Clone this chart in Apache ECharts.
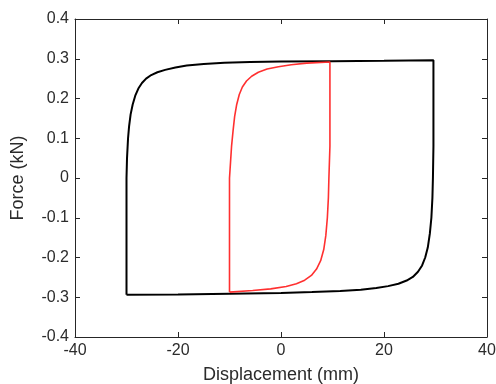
<!DOCTYPE html>
<html>
<head>
<meta charset="utf-8">
<script src="https://cdn.jsdelivr.net/npm/echarts@6/dist/echarts.min.js"></script>
<style>
  html, body { margin: 0; padding: 0; background: #fff; }
  #chart { width: 496px; height: 384px; }
</style>
</head>
<body>
<div id="chart"></div>
<script>
// black loop (+/-30 mm), traced round the loop
var blackX = [-30, -30, -29.9, -29.7, -29.5, -29.2, -28.8, -28.3, -27.7, -27.0, -26.2, -25.2, -24.0, -22.5, -20.5, -18.3, -15, -11, -6, 0, 10, 20, 29.6,
              29.6, 29.5, 29.4, 29.2, 28.9, 28.5, 28.0, 27.4, 26.6, 25.6, 24.4, 22.8, 20.8, 18.5, 15.5, 11.5, 6, 0, -10, -20, -30];
var blackY = [-0.294, 0, 0.05, 0.1, 0.13, 0.16, 0.185, 0.207, 0.225, 0.239, 0.25, 0.259, 0.266, 0.272, 0.278, 0.283, 0.287, 0.29, 0.292, 0.293, 0.294, 0.295, 0.296,
              0.08, 0, -0.05, -0.1, -0.14, -0.175, -0.2, -0.22, -0.236, -0.249, -0.258, -0.266, -0.272, -0.277, -0.281, -0.284, -0.287, -0.289, -0.291, -0.293, -0.294];
// red loop (+/-10 mm)
var redX = [-10, -10, -9.8, -9.6, -9.3, -9.0, -8.6, -8.1, -7.5, -6.7, -5.7, -4.4, -2.7, -0.5, 2, 5, 9.5,
            9.5, 9.3, 9.2, 9.0, 8.7, 8.3, 7.7, 6.9, 5.9, 4.6, 3.0, 1, -2, -5.5, -10];
var redY = [-0.287, 0, 0.04, 0.08, 0.12, 0.155, 0.185, 0.21, 0.229, 0.244, 0.256, 0.266, 0.274, 0.28, 0.285, 0.289, 0.292,
            0.08, 0, -0.05, -0.1, -0.145, -0.18, -0.208, -0.229, -0.245, -0.257, -0.266, -0.273, -0.279, -0.283, -0.287];
var xTicks = [-40, -20, 0, 20, 40];
var yTicks = [-0.4, -0.3, -0.2, -0.1, 0, 0.1, 0.2, 0.3, 0.4];

function pairs(xs, ys) {
  return xs.map(function (x, i) { return [x, ys[i]]; });
}

var chart = echarts.init(document.getElementById('chart'));
var font = 'Liberation Sans, Arial, sans-serif';
var lineCol = '#262626';
var textCol = '#2b2b2b';

var frame = {
  axisLine: { show: true, onZero: false, lineStyle: { color: lineCol, width: 1 } },
  axisTick: { show: true, inside: true, length: 5, lineStyle: { color: lineCol } },
  splitLine: { show: false }
};

chart.setOption({
  backgroundColor: '#fff',
  animation: false,
  grid: { left: 75, right: 9, top: 19, bottom: 47, containLabel: false, outerBoundsMode: 'none' },
  xAxis: [
    Object.assign({
      type: 'value', min: xTicks[0], max: xTicks[xTicks.length - 1], interval: 20, position: 'bottom',
      name: 'Displacement (mm)', nameLocation: 'middle', nameGap: 29,
      nameTextStyle: { fontFamily: font, fontSize: 18, color: textCol },
      axisLabel: { fontFamily: font, fontSize: 16, color: textCol, margin: 6 }
    }, frame),
    Object.assign({
      type: 'value', min: xTicks[0], max: xTicks[xTicks.length - 1], interval: 20, position: 'top',
      axisLabel: { show: false }
    }, frame)
  ],
  yAxis: [
    Object.assign({
      type: 'value', min: yTicks[0], max: yTicks[yTicks.length - 1], interval: 0.1, position: 'left',
      name: 'Force (kN)', nameLocation: 'middle', nameGap: 48,
      nameTextStyle: { fontFamily: font, fontSize: 18, color: textCol },
      axisLabel: {
        fontFamily: font, fontSize: 16, color: textCol, margin: 6,
        formatter: function (v) { var s = (Math.round(v * 10) / 10).toString(); return s === '-0' ? '0' : s; }
      }
    }, frame),
    Object.assign({
      type: 'value', min: yTicks[0], max: yTicks[yTicks.length - 1], interval: 0.1, position: 'right',
      axisLabel: { show: false }
    }, frame)
  ],
  series: [
    {
      type: 'line', data: pairs(blackX, blackY), xAxisIndex: 0, yAxisIndex: 0,
      showSymbol: false, smooth: false, lineStyle: { color: '#000', width: 2 }
    },
    {
      type: 'line', data: pairs(redX, redY), xAxisIndex: 0, yAxisIndex: 0,
      showSymbol: false, smooth: false, lineStyle: { color: '#ff3030', width: 1.6 }
    }
  ]
});
</script>
</body>
</html>
